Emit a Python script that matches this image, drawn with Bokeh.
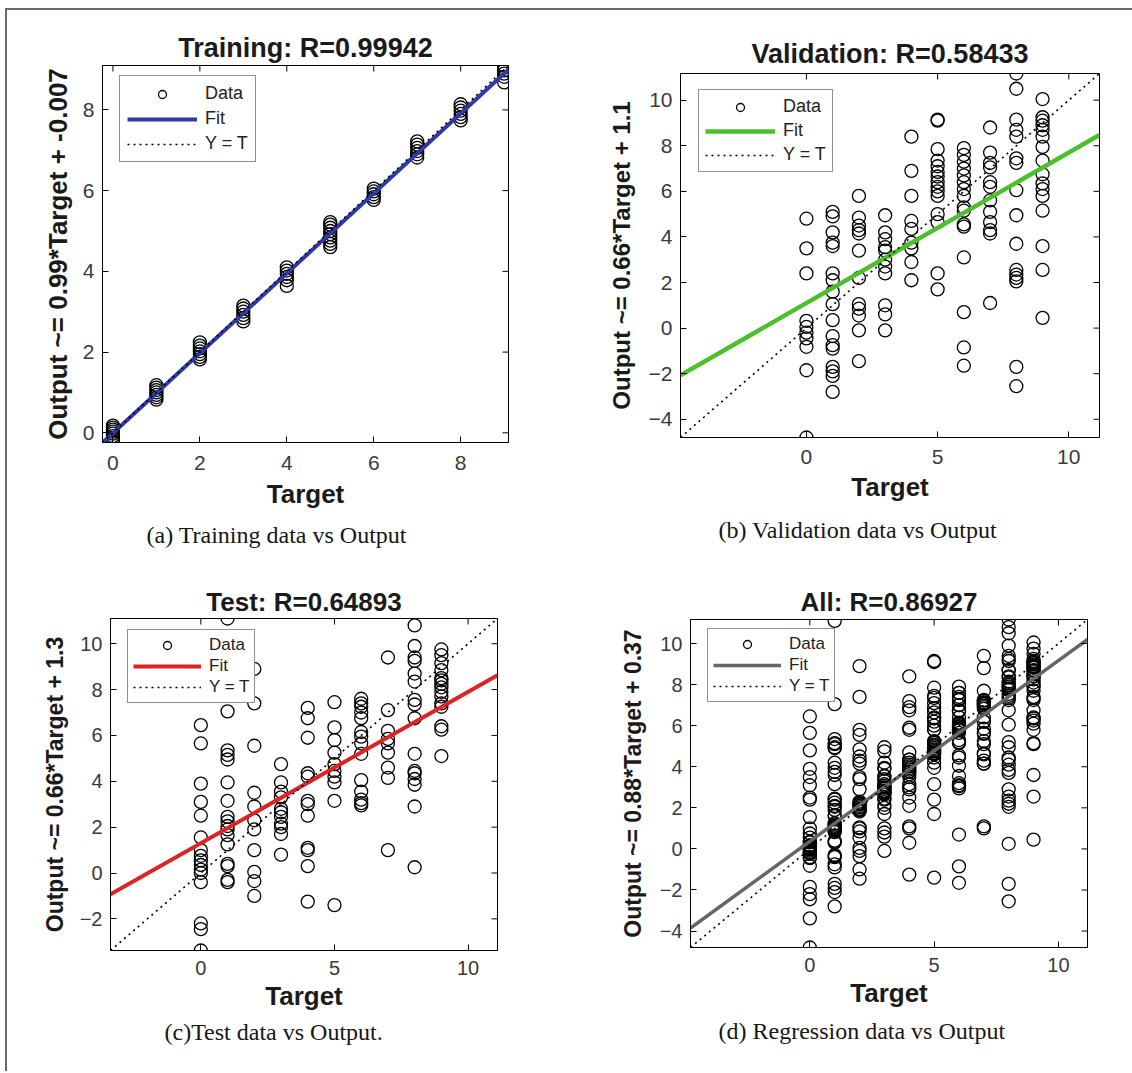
import math
from bokeh.plotting import figure
from bokeh.layouts import column, row
from bokeh.models import (Range1d, FixedTicker, Title, Legend,
                          LegendItem, ColumnDataSource)
from bokeh.embed import file_html
from bokeh.resources import INLINE

# ---------------- data ----------------
targets = [0, 1, 2, 3, 4, 5, 6, 7, 8, 9]

train_outputs = [
    [-0.24, -0.2, -0.14, -0.08, -0.02, 0.03, 0.08, 0.13, 0.18],
    [0.82, 0.88, 0.94, 1.0, 1.06, 1.12, 1.18],
    [1.82, 1.88, 1.95, 2.02, 2.09, 2.16, 2.24],
    [2.76, 2.84, 2.92, 3.0, 3.08, 3.15],
    [3.64, 3.78, 3.86, 3.94, 4.02, 4.1],
    [4.6, 4.68, 4.76, 4.84, 4.92, 5.0, 5.08, 5.16, 5.22],
    [5.77, 5.84, 5.91, 5.98, 6.05],
    [6.82, 6.9, 6.98, 7.06, 7.14, 7.22],
    [7.74, 7.82, 7.9, 7.98, 8.06, 8.14],
    [8.68, 8.82, 8.9, 8.98, 9.05, 9.1],
]

val_outputs = [
    [4.8, 3.5, 2.4, 0.32, 0.05, -0.2, -0.45, -0.82, -1.85, -4.8],
    [5.1, 4.9, 4.2, 3.75, 3.6, 2.4, 2.1, 1.6, 1.05, 0.35, -0.35, -0.75, -0.9, -1.7, -1.9, -2.1, -2.8],
    [5.8, 4.85, 4.5, 4.3, 4.15, 3.4, 2.2, 1.05, 0.85, 0.55, -0.1, -1.45],
    [4.95, 4.2, 3.9, 3.55, 3.4, 3.0, 2.7, 2.4, 1.0, 0.6, -0.1],
    [8.4, 6.9, 5.8, 4.7, 4.35, 3.75, 3.5, 2.9, 2.1],
    [9.15, 9.1, 7.85, 7.35, 7.1, 6.85, 6.65, 6.4, 6.2, 6.0, 5.8, 5.0, 4.65, 2.4, 1.7],
    [7.9, 7.6, 7.3, 7.0, 6.7, 6.4, 6.1, 5.8, 5.3, 5.15, 4.55, 4.45, 3.1, 0.7, -0.85, -1.65],
    [8.8, 7.7, 7.25, 7.05, 6.4, 6.2, 5.6, 5.1, 4.65, 4.3, 4.15, 1.1],
    [11.17, 10.5, 9.15, 8.7, 8.4, 7.45, 7.25, 6.05, 4.95, 3.7, 2.55, 2.35, 2.2, 2.05, -1.7, -2.55],
    [10.05, 9.25, 9.1, 8.9, 8.7, 8.4, 7.95, 7.35, 6.75, 6.35, 6.1, 5.8, 5.15, 3.6, 2.55, 0.45],
]

test_outputs = [
    [6.45, 5.65, 3.9, 3.1, 2.5, 1.55, 1.0, 0.75, 0.55, 0.35, 0.15, 0.0, -0.4, -2.2, -2.45, -3.38],
    [11.1, 7.05, 5.35, 5.15, 4.95, 3.95, 3.15, 2.45, 2.25, 2.05, 1.9, 1.65, 1.25, 0.4, 0.3, -0.3, -0.4],
    [8.9, 7.4, 5.55, 3.5, 2.9, 2.3, 1.9, 1.0, 0.05, -0.35, -1.0],
    [4.75, 3.95, 3.55, 3.3, 2.8, 2.65, 2.45, 2.15, 2.0, 1.7, 0.8],
    [7.2, 6.75, 5.9, 4.35, 4.2, 3.15, 3.0, 2.5, 1.1, 1.0, 0.3, -1.25],
    [7.45, 6.35, 5.8, 5.25, 4.75, 4.45, 4.2, 3.95, 3.15, -1.4],
    [7.6, 7.4, 7.25, 7.0, 6.75, 6.15, 5.95, 5.65, 5.2, 4.05, 3.55, 3.2, 3.05, 2.95],
    [9.4, 7.1, 6.2, 5.85, 5.65, 5.25, 4.6, 4.15, 1.0],
    [10.8, 9.9, 9.4, 9.25, 8.7, 8.35, 7.55, 7.35, 6.75, 5.2, 4.45, 4.35, 4.1, 3.85, 2.9, 0.25],
    [9.75, 9.5, 9.15, 8.85, 8.5, 8.4, 8.25, 8.1, 7.9, 7.7, 7.4, 7.25, 6.4, 6.25, 5.1],
]

all_outputs = [train_outputs[i] + val_outputs[i] + test_outputs[i] for i in range(len(targets))]

titles = ["Training: R=0.99942", "Validation: R=0.58433", "Test: R=0.64893", "All: R=0.86927"]
ylabels = ["Output ~= 0.99*Target + -0.007", "Output ~= 0.66*Target + 1.1",
           "Output ~= 0.66*Target + 1.3", "Output ~= 0.88*Target + 0.37"]
captions = ["(a) Training data vs Output", "(b) Validation data vs Output",
            "(c)Test data vs Output.", "(d) Regression data vs Output"]
fit_slopes = [0.99, 0.66, 0.66, 0.88]
fit_intercepts = [-0.007, 1.1, 1.3, 0.37]
fit_colors = ["#2f3aa6", "#4cbf2c", "#dc2326", "#656565"]

xticks_a = [0, 2, 4, 6, 8]
yticks_a = [0, 2, 4, 6, 8]
xticks_b = [0, 5, 10]
yticks_b = [-4, -2, 0, 2, 4, 6, 8, 10]
xticks_c = [0, 5, 10]
yticks_c = [-2, 0, 2, 4, 6, 8, 10]
xticks_d = [0, 5, 10]
yticks_d = [-4, -2, 0, 2, 4, 6, 8, 10]

SANS = "Liberation Sans"
SERIF = "Liberation Serif"


def make_panel(outputs, title, ylabel, caption, slope, icpt, color, lw,
               xticks, yticks, w, h, mb, title_standoff, cap_standoff, cap_offset,
               leg_loc, title_fs, ylab_fs, tick_fs, leg_fs, glyph_w, leg_spacing,
               leg_padding, xl_standoff, xal_standoff, yal_standoff):
    xs, ys = [], []
    for t, outs in zip(targets, outputs):
        for o in outs:
            xs.append(t)
            ys.append(o)
    lo = min(min(xs), min(ys))
    hi = max(max(xs), max(ys))
    mbl, mbr, mbt, mbb = mb
    p = figure(width=w, height=h, x_range=Range1d(lo, hi), y_range=Range1d(lo, hi),
               output_backend="svg", toolbar_location=None,
               min_border_left=mbl, min_border_right=mbr,
               min_border_top=mbt, min_border_bottom=mbb)
    p.frame_align = False
    p.xgrid.visible = False
    p.ygrid.visible = False
    p.outline_line_color = "black"
    p.outline_line_width = 1
    p.background_fill_color = "white"
    p.border_fill_color = "white"

    p.title = Title(text=title, align="center", text_font=SANS, text_font_style="bold",
                    text_font_size=title_fs, text_color="#1a1a1a", standoff=title_standoff)

    src = ColumnDataSource(dict(x=xs, y=ys))
    r_data = p.scatter(x="x", y="y", source=src, marker="circle", size=13,
                       fill_color=None, line_color="black", line_width=1.3)
    fx = [lo, hi]
    r_fit = p.line(x=fx, y=[slope * v + icpt for v in fx], line_color=color, line_width=lw)
    r_id = p.line(x=fx, y=fx, line_color="black", line_width=1.6, line_dash="2 4")

    # inward box ticks on the top and right edges (half of each dash is clipped away)
    p.scatter(x=xticks, y=[hi] * len(xticks), marker="dash", angle=math.pi / 2,
              size=12, line_color="black", line_width=1)
    p.scatter(x=[hi] * len(yticks), y=yticks, marker="dash", angle=0,
              size=12, line_color="black", line_width=1)

    xa = p.xaxis[0]
    ya = p.yaxis[0]
    xa.ticker = FixedTicker(ticks=xticks)
    ya.ticker = FixedTicker(ticks=yticks)
    for ax in (xa, ya):
        ax.major_tick_in = 6
        ax.major_tick_out = 0
        ax.minor_tick_line_color = None
        ax.axis_line_color = "black"
        ax.major_tick_line_color = "black"
        ax.major_label_text_font = SANS
        ax.major_label_text_font_size = tick_fs
        ax.major_label_text_color = "#3a3a3a"
        ax.axis_label_text_font = SANS
        ax.axis_label_text_font_style = "bold"
        ax.axis_label_text_color = "#1a1a1a"
    xa.major_label_standoff = xl_standoff
    ya.major_label_standoff = 8
    xa.axis_label = "Target"
    xa.axis_label_text_font_size = "26px"
    xa.axis_label_standoff = xal_standoff
    ya.axis_label = ylabel
    ya.axis_label_text_font_size = ylab_fs
    ya.axis_label_standoff = yal_standoff

    # figure caption under the panel (left-aligned with an offset from the frame edge)
    p.add_layout(Title(text=caption, align="left", text_font=SERIF,
                       text_font_style="normal", text_font_size="24px",
                       text_color="#161616", standoff=cap_standoff,
                       offset=cap_offset), "below")

    leg = Legend(items=[LegendItem(label="Data", renderers=[r_data]),
                        LegendItem(label="Fit", renderers=[r_fit]),
                        LegendItem(label="Y = T", renderers=[r_id])],
                 location=leg_loc, margin=0, padding=leg_padding, spacing=leg_spacing,
                 glyph_width=glyph_w, glyph_height=20, label_height=18,
                 label_standoff=8, label_text_font=SANS, label_text_font_size=leg_fs,
                 label_text_color="#222222", border_line_color="#222222",
                 border_line_width=1.2, background_fill_color="white",
                 background_fill_alpha=1.0)
    p.add_layout(leg)
    return p


pa = make_panel(train_outputs, titles[0], ylabels[0], captions[0], fit_slopes[0],
                fit_intercepts[0], fit_colors[0], 4, xticks_a, yticks_a,
                573, 553, (95, 72, 55, 121), 5, 16, 44, (17, 280),
                "27px", "26px", "21px", "18px", 70, 4, 7, 13, 6, 7)
pb = make_panel(val_outputs, titles[1], ylabels[1], captions[1], fit_slopes[1],
                fit_intercepts[1], fit_colors[1], 4.5, xticks_b, yticks_b,
                552, 553, (100, 33, 63, 126), 9, 21, 38, (18, 265),
                "27px", "24px", "21px", "18px", 70, 3, 6, 12, 5, 11)
pc = make_panel(test_outputs, titles[2], ylabels[2], captions[2], fit_slopes[2],
                fit_intercepts[2], fit_colors[2], 4, xticks_c, yticks_c,
                573, 508, (103, 83, 55, 121), 4, 6, 54, (17, 247),
                "26px", "23px", "20px", "17px", 68, 1, 5, 10, 3, 9)
pd = make_panel(all_outputs, titles[3], ylabels[3], captions[3], fit_slopes[3],
                fit_intercepts[3], fit_colors[3], 3.5, xticks_d, yticks_d,
                552, 508, (110, 45, 56, 124), 5, 11, 28, (17, 245),
                "26px", "23px", "20px", "17px", 68, 1, 5, 10, 3, 11)

layout = column(row(pa, pb), row(pc, pd),
                styles={"margin-left": "5px", "margin-top": "8px",
                        "border-top": "2px solid #6a6a6a",
                        "border-left": "2px solid #6a6a6a"})

open("out.html", "w").write(file_html(layout, INLINE))
